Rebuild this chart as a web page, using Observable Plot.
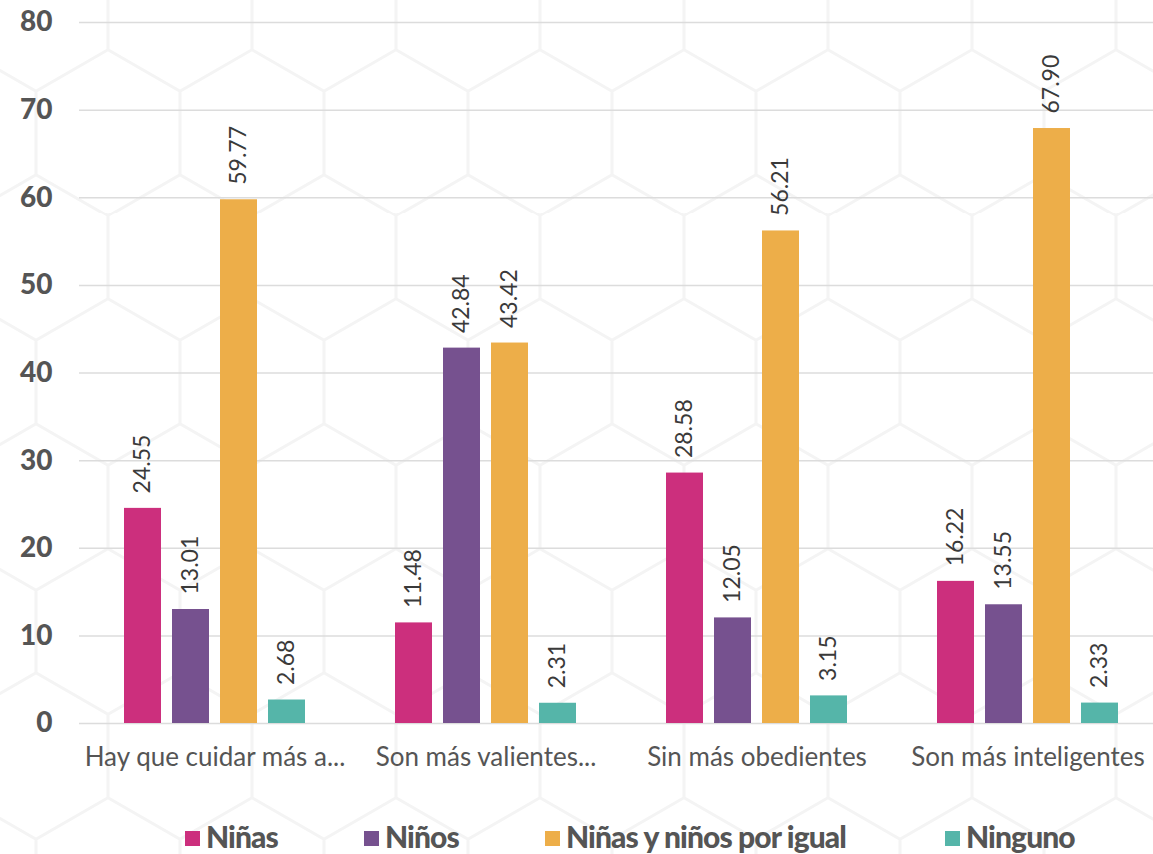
<!DOCTYPE html>
<html>
<head>
<meta charset="utf-8">
<script src="https://cdn.jsdelivr.net/npm/d3@7"></script>
<script src="https://cdn.jsdelivr.net/npm/@observablehq/plot@0.6"></script>
<style>
  html, body { margin: 0; padding: 0; width: 1153px; height: 854px; overflow: hidden; }
  body {
    background-color: #ffffff;
    background-image: url("data:image/svg+xml;utf8,<svg xmlns='http://www.w3.org/2000/svg' width='144' height='249.4'><path d='M72,0 V41.6 L0,83.1 M72,41.6 L144,83.1 M0,83.1 V166.3 M144,83.1 V166.3 M0,166.3 L72,207.8 L144,166.3 M72,207.8 V249.4' fill='none' stroke='%23f4f4f4' stroke-width='3'/></svg>");
    background-position: 36px 8px;
    font-family: Lato, "Open Sans", sans-serif;
  }
  #chart { position: absolute; left: 0; top: 0; }
  #legend { position: absolute; left: 0; top: 818px; width: 1153px; height: 36px; }
  .item {
    position: absolute; top: 0; display: flex; align-items: center; white-space: nowrap;
    font-family: Lato, sans-serif; font-weight: 900; font-size: 30px; color: #555;
    letter-spacing: -0.9px;
  }
  .sw { width: 15px; height: 15px; margin-right: 6px; margin-top: 4px; }
</style>
</head>
<body>
<div id="chart"></div>
<div id="legend"></div>
<script>
const categories = ["Hay que cuidar más a...", "Son más valientes...", "Sin más obedientes", "Son más inteligentes"];
const series = ["Niñas", "Niños", "Niñas y niños por igual", "Ninguno"];
const colors = ["#CC2F7D", "#76518F", "#EDAE49", "#55B5A9"];
const valNinas = [24.55, 11.48, 28.58, 16.22];
const valNinos = [13.01, 42.84, 12.05, 13.55];
const valIgual = [59.77, 43.42, 56.21, 67.90];
const valNinguno = [2.68, 2.31, 3.15, 2.33];
const yTicks = [0, 10, 20, 30, 40, 50, 60, 70, 80];

const seriesValues = [valNinas, valNinos, valIgual, valNinguno];
const data = [];
categories.forEach((c, i) => {
  series.forEach((s, j) => {
    data.push({category: c, series: s, value: seriesValues[j][i]});
  });
});

const chart = Plot.plot({
  width: 1153,
  height: 790,
  marginTop: 22,
  marginBottom: 67,
  marginLeft: 80,
  marginRight: 0,
  style: {background: "transparent", fontFamily: "Lato, sans-serif"},
  fx: {domain: categories, range: [78, 1164], padding: 0, label: null},
  x: {domain: series, paddingInner: 0.22, paddingOuter: 0.88, axis: null},
  y: {domain: [0, 80], ticks: yTicks, label: null},
  color: {domain: series, range: colors},
  marks: [
    Plot.ruleY(yTicks, {stroke: "#dcdcdc", strokeWidth: 1.5}),
    Plot.barY(data, {fx: "category", x: "series", y: "value", fill: "series"}),
    Plot.text(data, {
      fx: "category", x: "series", y: "value",
      text: d => d.value.toFixed(2),
      rotate: -90, textAnchor: "start", dy: -15,
      fontSize: 23, fontWeight: 400, fill: "#3a3a3a"
    }),
    Plot.axisY({ticks: yTicks, tickSize: 0, tickPadding: 27, fontSize: 28, fontWeight: 900, fill: "#555", label: null}),
    Plot.axisFx({anchor: "bottom", tickSize: 0, tickPadding: 24, fontSize: 26, fill: "#555", label: null})
  ]
});
document.getElementById("chart").appendChild(chart);

const legend = document.getElementById("legend");
const lefts = [185, 364, 545, 945];
series.forEach((s, i) => {
  const it = document.createElement("div");
  it.className = "item";
  it.style.left = lefts[i] + "px";
  const sw = document.createElement("div");
  sw.className = "sw";
  sw.style.background = colors[i];
  const t = document.createElement("span");
  t.textContent = s;
  it.appendChild(sw); it.appendChild(t);
  legend.appendChild(it);
});
</script>
</body>
</html>
